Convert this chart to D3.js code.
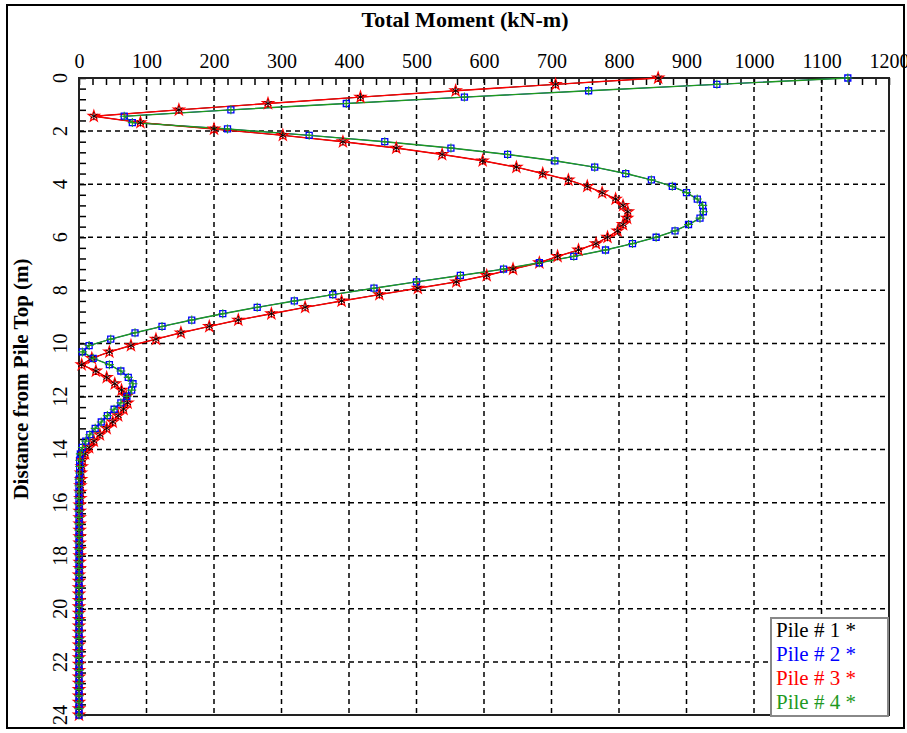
<!DOCTYPE html>
<html>
<head>
<meta charset="utf-8">
<script src="https://cdn.jsdelivr.net/npm/d3@7"></script>
<style>
    body { margin: 0; background: #fff; }
    text { font-family: "Liberation Serif", "Times New Roman", serif; }
</style>
</head>
<body>
<svg id="chart" width="907" height="733"></svg>
<script>
// depth of every output node along the pile (m), nodes are 0.24 m apart
var depthStep = 0.24;

// total moment (kN-m), one value per node
var pile1Moment = [858, 706, 558, 417, 280, 148, 22, 91, 200, 302,
    391, 470, 538, 598, 648, 687, 725, 753, 775, 795,
    806, 813, 812, 806, 798, 783, 766, 740, 709, 682,
    643, 604, 559, 502, 445, 389, 335, 285, 236, 193,
    151, 114, 77, 45, 19, 4, 25, 41, 53, 63,
    70, 72, 66, 58, 50, 41, 31, 22, 15, 9,
    5, 4, 3, 3, 2, 2, 2, 1, 1, 1,
    1, 1, 1, 1, 1, 1, 1, 1, 0, 0,
    0, 0, 0, 0, 0, 0, 0, 0, 0, 0,
    0, 0, 0, 0, 0, 0, 0, 0, 0, 0, 0];
var pile2Moment = [1139, 945, 755, 571, 396, 225, 67, 79, 220, 341,
    453, 551, 635, 705, 764, 810, 848, 879, 900, 916,
    924, 925, 920, 903, 883, 855, 820, 780, 733, 682,
    629, 565, 500, 437, 376, 319, 264, 213, 167, 123,
    83, 47, 15, 5, 21, 45, 62, 73, 80, 78,
    71, 62, 52, 42, 33, 24, 16, 10, 5, 2,
    1, 1, 1, 0, 0, 0, 0, 0, 0, 0,
    0, 0, 0, 0, 0, 0, 0, 0, 0, 0,
    0, 0, 0, 0, 0, 0, 0, 0, 0, 0,
    0, 0, 0, 0, 0, 0, 0, 0, 0, 0, 0];
// piles 3 and 4 plot on top of piles 1 and 2
var pile3Moment = pile1Moment.slice();
var pile4Moment = pile2Moment.slice();

var pileNames = ["Pile # 1", "Pile # 2", "Pile # 3", "Pile # 4"];
var pileColours = ["#000000", "#0000ff", "#ff0000", "#1f9a1f"];
var momentTicks = [0, 100, 200, 300, 400, 500, 600, 700, 800, 900, 1000, 1100, 1200];
var depthTicks = [0, 2, 4, 6, 8, 10, 12, 14, 16, 18, 20, 22, 24];

var svg = d3.select("#chart");

var x = d3.scaleLinear().domain([0, 1200]).range([79, 889]);
var y = d3.scaleLinear().domain([0, 24]).range([78, 715]);

// outer frame
svg.append("rect")
    .attr("x", 7).attr("y", 5)
    .attr("width", 897).attr("height", 723)
    .attr("fill", "none")
    .attr("stroke", "#000")
    .attr("stroke-width", 2);

// dashed grid
svg.append("g")
    .selectAll("line")
    .data(momentTicks.slice(1, -1))
    .enter().append("line")
    .attr("x1", function (d) { return x(d); })
    .attr("x2", function (d) { return x(d); })
    .attr("y1", y(0)).attr("y2", y(24))
    .attr("stroke", "#000")
    .attr("stroke-width", 1.5)
    .attr("stroke-dasharray", "5,4");

svg.append("g")
    .selectAll("line")
    .data(depthTicks.slice(1, -1))
    .enter().append("line")
    .attr("y1", function (d) { return y(d); })
    .attr("y2", function (d) { return y(d); })
    .attr("x1", x(0)).attr("x2", x(1200))
    .attr("stroke", "#000")
    .attr("stroke-width", 1.5)
    .attr("stroke-dasharray", "5,4");

// top axis: minor ticks every 20, labels every 100
svg.append("g")
    .attr("transform", "translate(0," + y(0) + ")")
    .call(d3.axisTop(x).tickValues(d3.range(0, 1201, 20)).tickSize(-7).tickFormat(""))
    .call(function (g) { g.select(".domain").remove(); })
    .selectAll("line").attr("stroke", "#000").attr("stroke-width", 1.5);

svg.append("g")
    .attr("transform", "translate(0," + y(0) + ")")
    .call(d3.axisTop(x).tickValues(momentTicks).tickSize(0).tickPadding(10).tickFormat(d3.format("d")))
    .call(function (g) { g.select(".domain").remove(); })
    .selectAll("text")
    .attr("fill", "#000")
    .style("font-size", "20px")
    .style("font-family", "'Liberation Serif', serif");

// left axis: minor ticks every 0.4 m, labels turned on their side
svg.append("g")
    .attr("transform", "translate(" + x(0) + ",0)")
    .call(d3.axisLeft(y).tickValues(d3.range(0, 24.01, 0.4)).tickSize(-7).tickFormat(""))
    .call(function (g) { g.select(".domain").remove(); })
    .selectAll("line").attr("stroke", "#000").attr("stroke-width", 1.5);

svg.append("g")
    .selectAll("text")
    .data(depthTicks)
    .enter().append("text")
    .attr("transform", function (d) {
        return "translate(67," + y(d) + ") rotate(-90)";
    })
    .attr("text-anchor", "middle")
    .style("font-size", "20px")
    .text(function (d) { return d; });

// plot frame
svg.append("rect")
    .attr("x", x(0)).attr("y", y(0))
    .attr("width", x(1200) - x(0)).attr("height", y(24) - y(0))
    .attr("fill", "none")
    .attr("stroke", "#222")
    .attr("stroke-width", 2);

// titles
svg.append("text")
    .attr("x", 465).attr("y", 27)
    .attr("text-anchor", "middle")
    .style("font-size", "22px")
    .style("font-weight", "bold")
    .text("Total Moment (kN-m)");

svg.append("text")
    .attr("transform", "translate(28,379) rotate(-90)")
    .attr("text-anchor", "middle")
    .style("font-size", "21px")
    .style("font-weight", "bold")
    .text("Distance from Pile Top (m)");

// markers for each pile
var asterisk = "M0,-4L0,4M-3.5,-2L3.5,2M-3.5,2L3.5,-2";
var square = "M-3,-3L3,-3L3,3L-3,3Z";
var star = d3.symbol().type(d3.symbolStar).size(38)();
var plus = "M-4.5,0L4.5,0M0,-4.5L0,4.5";
var markerPaths = [asterisk, square, star, plus];
var markerWidths = [0.9, 1.3, 1.2, 1.1];

var series = [pile1Moment, pile2Moment, pile3Moment, pile4Moment];
var lineWidths = [1, 1, 1.4, 1.4];
// red stars go under the black asterisks, blue squares under the green crosses
var markerOrder = [2, 0, 1, 3];

var line = d3.line()
    .x(function (d) { return x(d); })
    .y(function (d, i) { return y(i * depthStep); });

series.forEach(function (values, p) {
    svg.append("path")
        .datum(values)
        .attr("d", line)
        .attr("fill", "none")
        .attr("stroke", pileColours[p])
        .attr("stroke-width", lineWidths[p]);
});

markerOrder.forEach(function (p) {
    svg.append("g").attr("class", "pile" + (p + 1))
        .selectAll("path")
        .data(series[p])
        .enter().append("path")
        .attr("transform", function (d, i) {
            return "translate(" + x(d) + "," + y(i * depthStep) + ")";
        })
        .attr("d", markerPaths[p])
        .attr("fill", "none")
        .attr("stroke", pileColours[p])
        .attr("stroke-width", markerWidths[p]);
});

// legend
var legend = svg.append("g").attr("class", "legend");

legend.append("rect")
    .attr("x", 771).attr("y", 618)
    .attr("width", 117).attr("height", 98)
    .attr("fill", "#fff")
    .attr("stroke", "#888")
    .attr("stroke-width", 2);

legend.selectAll("text")
    .data(pileNames)
    .enter().append("text")
    .attr("x", 776)
    .attr("y", function (d, i) { return 637 + i * 24; })
    .style("font-size", "21px")
    .attr("fill", function (d, i) { return pileColours[i]; })
    .text(function (d) { return d + " *"; });
</script>
</body>
</html>
